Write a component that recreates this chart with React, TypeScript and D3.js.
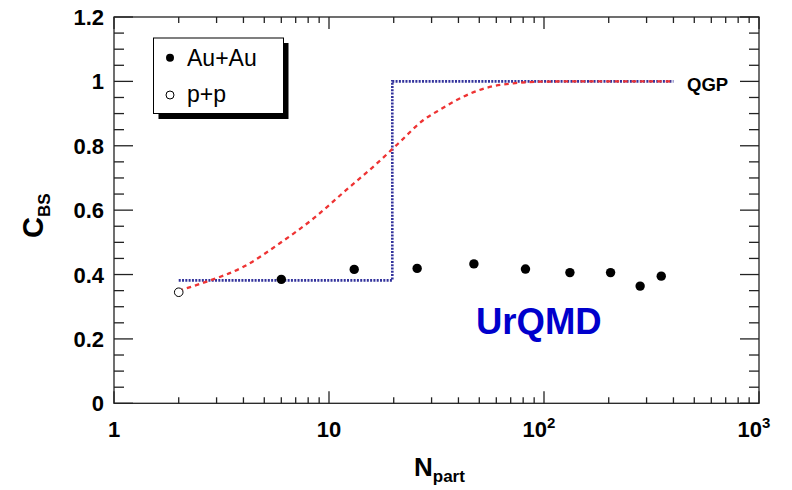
import React from "react";
import * as d3 from "d3";

const auauNpart = [6.0, 13.1, 25.7, 47.2, 82, 132, 204, 280, 351];
const auauCbs = [0.385, 0.416, 0.419, 0.433, 0.417, 0.406, 0.406, 0.364, 0.395];
const ppNpart = [2.0];
const ppCbs = [0.345];

const stepNpart = [2, 19.7, 19.7, 400];
const stepCbs = [0.382, 0.382, 1.0, 1.0];

const curveNpart = [2.0, 2.7, 4.0, 5.9, 8.5, 12, 16.7, 21, 27.5, 33, 42, 54, 72, 96, 150, 400];
const curveCbs = [0.35, 0.378, 0.424, 0.497, 0.575, 0.662, 0.745, 0.807, 0.88, 0.913, 0.952, 0.98, 0.994, 0.999, 1.0, 1.0];

const yTicks = [0, 0.2, 0.4, 0.6, 0.8, 1.0, 1.2];
const yTickLabels = ["0", "0.2", "0.4", "0.6", "0.8", "1", "1.2"];
const xMajor = [1, 10, 100, 1000];
const xBase = ["1", "10", "10", "10"];
const xExp = ["", "", "2", "3"];

const W = 792, H = 490;
const L = 114, R = 759, T = 17, B = 403.3;
const FONT = "'Liberation Sans', Arial, Helvetica, sans-serif";

export default function App() {
  const x = d3.scaleLog().domain([1, 1000]).range([L, R]);
  const y = d3.scaleLinear().domain([0, 1.2]).range([B, T]);

  const xMinor: number[] = [];
  for (let d = 1; d < 1000; d *= 10) for (let k = 2; k <= 9; k++) xMinor.push(d * k);
  const yMinor: number[] = [];
  for (let i = 0; i <= 24; i++) if (i % 4 !== 0) yMinor.push(i * 0.05);

  const line = d3.line<[number, number]>().x(d => x(d[0])).y(d => y(d[1]));
  const stepPath = line(stepNpart.map((v, i) => [v, stepCbs[i]]) as [number, number][]) || "";
  const curvePath = d3.line<[number, number]>().x(d => x(d[0])).y(d => y(d[1])).curve(d3.curveMonotoneX)(
    curveNpart.map((v, i) => [v, curveCbs[i]]) as [number, number][]) || "";

  const axisColor = "#222";

  return (
    <svg width={W} height={H} style={{ position: "absolute", left: 0, top: 0, background: "#fff" }} fontFamily={FONT}>
      <rect x={0} y={0} width={W} height={H} fill="#fff" />
      {/* frame */}
      <rect x={L} y={T} width={R - L} height={B - T} fill="none" stroke={axisColor} strokeWidth={1.3} />
      {/* y ticks */}
      {yTicks.map(v => (
        <g key={"yt" + v}>
          <line x1={L} x2={L + 19} y1={y(v)} y2={y(v)} stroke={axisColor} strokeWidth={1.3} />
          <line x1={R} x2={R - 19} y1={y(v)} y2={y(v)} stroke={axisColor} strokeWidth={1.3} />
        </g>
      ))}
      {yMinor.map(v => (
        <g key={"ym" + v}>
          <line x1={L} x2={L + 10} y1={y(v)} y2={y(v)} stroke={axisColor} strokeWidth={1.3} />
          <line x1={R} x2={R - 10} y1={y(v)} y2={y(v)} stroke={axisColor} strokeWidth={1.3} />
        </g>
      ))}
      {/* x ticks */}
      {xMajor.map(v => (
        <g key={"xt" + v}>
          <line x1={x(v)} x2={x(v)} y1={B} y2={B - 12} stroke={axisColor} strokeWidth={1.3} />
          <line x1={x(v)} x2={x(v)} y1={T} y2={T + 12} stroke={axisColor} strokeWidth={1.3} />
        </g>
      ))}
      {xMinor.map(v => (
        <g key={"xm" + v}>
          <line x1={x(v)} x2={x(v)} y1={B} y2={B - 6} stroke={axisColor} strokeWidth={1.3} />
          <line x1={x(v)} x2={x(v)} y1={T} y2={T + 6} stroke={axisColor} strokeWidth={1.3} />
        </g>
      ))}
      {/* y tick labels */}
      {yTicks.map((v, i) => (
        <text key={"yl" + v} x={104} y={y(v) + 8} textAnchor="end" fontSize={22} fontWeight="bold" fill="#000">
          {yTickLabels[i]}
        </text>
      ))}
      {/* x tick labels */}
      {xMajor.map((v, i) => (
        <text key={"xl" + v} x={x(v) + (xExp[i] ? -5 : 0)} y={437} textAnchor="middle" fontSize={22} fontWeight="bold" fill="#000">
          {xBase[i]}
          {xExp[i] ? <tspan fontSize={15} dy={-9}>{xExp[i]}</tspan> : null}
        </text>
      ))}
      {/* axis titles */}
      <text x={414} y={476} fontSize={26} fontWeight="bold" fill="#000">
        N<tspan fontSize={17} dy={6}>part</tspan>
      </text>
      <text transform="translate(43,238) rotate(-90)" fontSize={29} fontWeight="bold" fill="#000">
        C<tspan fontSize={17} dy={7}>BS</tspan>
      </text>
      {/* model lines */}
      <path d={stepPath} fill="none" stroke="#33339c" strokeWidth={2.6} strokeDasharray="2 1.3" />
      <path d={curvePath} fill="none" stroke="#ee3333" strokeWidth={2.3} strokeDasharray="4.5 4" />
      {/* data */}
      {auauNpart.map((v, i) => (
        <circle key={"au" + i} cx={x(v)} cy={y(auauCbs[i])} r={4.7} fill="#000" />
      ))}
      {ppNpart.map((v, i) => (
        <circle key={"pp" + i} cx={x(v)} cy={y(ppCbs[i])} r={4.3} fill="#fff" stroke="#000" strokeWidth={1} />
      ))}
      {/* labels */}
      <text x={687} y={91} fontSize={18.5} fontWeight="bold" fill="#000">QGP</text>
      <text x={476} y={334} fontSize={36.5} fontWeight="bold" fill="#0000cc">UrQMD</text>
      {/* legend */}
      <rect x={158.5} y={43} width={130} height={76} fill="#000" />
      <rect x={153.5} y={38} width={130} height={75.5} fill="#fff" stroke="#000" strokeWidth={1} />
      <circle cx={170} cy={57.7} r={4} fill="#000" />
      <text x={187} y={66} fontSize={23} fill="#000">Au+Au</text>
      <circle cx={170} cy={95} r={4} fill="#fff" stroke="#000" strokeWidth={1} />
      <text x={187} y={102} fontSize={23} fill="#000">p+p</text>
    </svg>
  );
}
